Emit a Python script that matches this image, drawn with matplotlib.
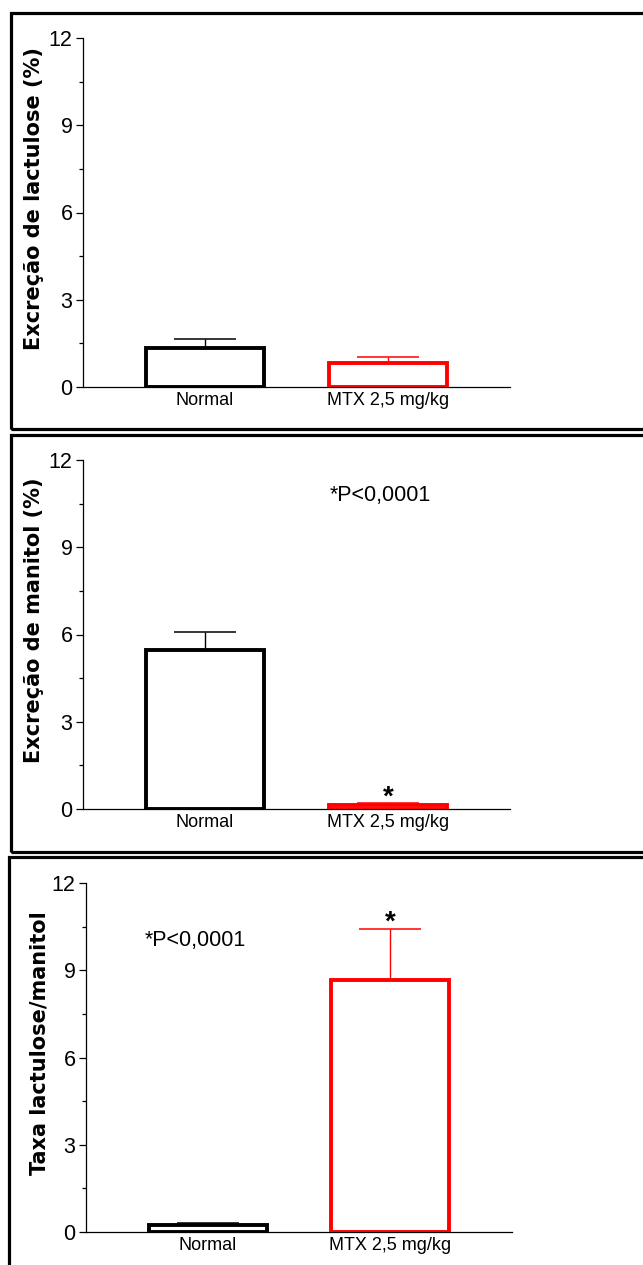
import matplotlib
matplotlib.use('Agg')
import matplotlib.pyplot as plt
from matplotlib.patches import Rectangle
from matplotlib.ticker import MultipleLocator

# Groups and colours
groups = ['Normal', 'MTX 2,5 mg/kg']
colors = ['#000000', '#ff0000']

# Lactulose excretion (%) - mean and SEM
lact_mean = [1.35, 0.82]
lact_sem = [0.30, 0.21]

# Mannitol excretion (%)
man_mean = [5.45, 0.15]
man_sem = [0.64, 0.04]

# Lactulose/mannitol ratio
ratio_mean = [0.24, 8.65]
ratio_sem = [0.08, 1.78]

ylabels = ['Excreção de lactulose (%)', 'Excreção de manitol (%)', 'Taxa lactulose/manitol']

SANS = ['Liberation Sans', 'DejaVu Sans']

W, H = 643, 1265
fig = plt.figure(figsize=(W / 100, H / 100), dpi=100)


def px_axes(x0, y_top, x1, y_bot):
    return fig.add_axes([x0 / W, 1 - y_bot / H, (x1 - x0) / W, (y_bot - y_top) / H])


def draw_panel(ax, means, sems, ylabel, stars):
    x = range(len(groups))
    for i in x:
        ax.errorbar(i, means[i], yerr=[[0], [sems[i]]], color=colors[i],
                    elinewidth=1.0, capsize=22, capthick=1.1, zorder=2)
        ax.bar(i, means[i], width=0.645, color='white', edgecolor=colors[i],
               linewidth=2.8, zorder=3)
        if stars[i]:
            ax.annotate('*', xy=(i, means[i] + sems[i]), xytext=(0, -0.8),
                        textcoords='offset points', ha='center', va='baseline',
                        fontsize=20, fontweight='bold', family=SANS)
    ax.set_xlim(-0.667, 1.667)
    ax.set_ylim(0, 12)
    ax.yaxis.set_major_locator(MultipleLocator(3))
    ax.yaxis.set_minor_locator(MultipleLocator(1.5))
    ax.set_xticks(list(x))
    ax.set_xticklabels(groups, family=SANS, fontsize=13)
    for lbl in ax.get_yticklabels():
        lbl.set_family(SANS)
        lbl.set_fontsize(15.5)
    ax.tick_params(axis='x', length=0, pad=3.5)
    ax.tick_params(axis='y', which='major', length=5, width=0.9, pad=2.5)
    ax.tick_params(axis='y', which='minor', length=3, width=0.9)
    for s in ['top', 'right']:
        ax.spines[s].set_visible(False)
    for s in ['left', 'bottom']:
        ax.spines[s].set_linewidth(0.9)
    ax.set_ylabel(ylabel, fontsize=15, fontweight='bold', family='DejaVu Sans')
    ax.yaxis.set_label_coords(-0.092, 0.54)


ax1 = px_axes(83, 38, 510, 387)
draw_panel(ax1, lact_mean, lact_sem, ylabels[0], [False, False])

ax2 = px_axes(83, 460, 510, 809)
draw_panel(ax2, man_mean, man_sem, ylabels[1], [False, True])
ax2.text(0.956, 10.77, '*P<0,0001', ha='center', va='center', fontsize=15.5, family=SANS)

ax3 = px_axes(86, 883, 512, 1232)
draw_panel(ax3, ratio_mean, ratio_sem, ylabels[2], [False, True])
ax3.yaxis.set_label_coords(-0.085, 0.54)
ax3.text(-0.07, 10.03, '*P<0,0001', ha='center', va='center', fontsize=15.5, family=SANS)

# panel frames (open on the right, running off the page)
frames = [(11, 13, 429), (11, 434.5, 852), (8.5, 856.5, 1275)]
for left, top, bottom in frames:
    fig.add_artist(Rectangle((left / W, 1 - bottom / H), (W + 20 - left) / W,
                             (bottom - top) / H, transform=fig.transFigure,
                             fill=False, edgecolor='black', linewidth=2.3))

fig.savefig('out.png', dpi=100)
